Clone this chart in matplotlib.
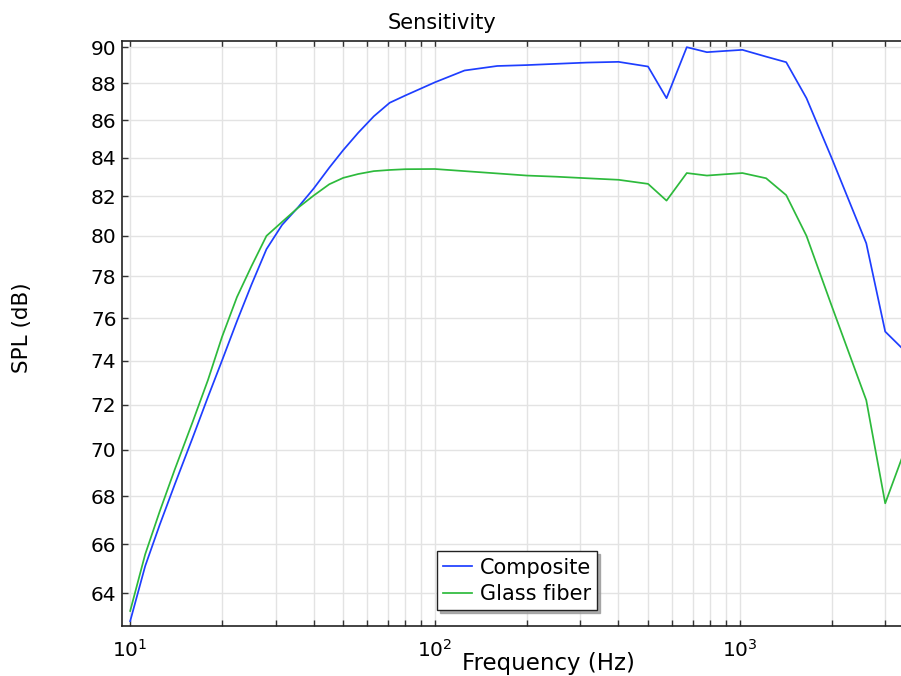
import numpy as np
import matplotlib
matplotlib.use("Agg")
import matplotlib.pyplot as plt
from matplotlib.ticker import FixedLocator, FixedFormatter, LogLocator, NullLocator, NullFormatter

# frequency points (Hz)
freq = [10, 11.2, 12.5, 14, 16, 18, 20, 22.4, 25, 28, 31.5, 35.5, 40, 45, 50, 56, 63, 71, 80, 100,
        125, 160, 200, 250, 315, 400, 500, 575, 670, 780, 880, 1020, 1220, 1420, 1655, 2000,
        2600, 3000, 3500]

composite = [62.9, 65.1, 66.8, 68.5, 70.5, 72.35, 74.0, 75.85, 77.6, 79.34, 80.55, 81.43, 82.4, 83.48,
             84.4, 85.32, 86.2, 86.93, 87.33, 88.05,
             88.7, 88.95, 89.0, 89.07, 89.14, 89.18, 88.92, 87.18, 90.0, 89.72, 89.78, 89.85, 89.47,
             89.16, 87.18, 84.0, 79.63, 75.36, 74.42]

glass_fiber = [63.3, 65.58, 67.36, 69.14, 71.2, 73.12, 75.1, 77.0, 78.5, 80.0, 80.7, 81.41, 82.04, 82.62,
               82.95, 83.15, 83.3, 83.36, 83.4, 83.41,
               83.3, 83.18, 83.07, 83.01, 82.93, 82.85, 82.64, 81.78, 83.2, 83.07, 83.13, 83.2, 82.93,
               82.06, 80.0, 76.6, 72.2, 67.7, 70.08]

yticks = [64, 66, 68, 70, 72, 74, 76, 78, 80, 82, 84, 86, 88, 90]

plt.rcParams["font.family"] = "DejaVu Sans"

fig = plt.figure(figsize=(9.01, 6.76), dpi=100)
ax = fig.add_axes([0.1354, 0.074, 0.8646, 0.8654])

ax.plot(freq, composite, color="#1e3eff", lw=1.25, label="Composite")
ax.plot(freq, glass_fiber, color="#2dba3c", lw=1.25, label="Glass fiber")

ax.set_xscale("log")
ax.set_yscale("log")
ax.set_xlim(9.4, 3380)
ax.set_ylim(62.71, 90.35)

ax.xaxis.set_major_locator(LogLocator(base=10))
ax.xaxis.set_minor_locator(LogLocator(base=10, subs=np.arange(2, 10)))
ax.xaxis.set_minor_formatter(NullFormatter())
ax.yaxis.set_major_locator(FixedLocator(yticks))
ax.yaxis.set_major_formatter(FixedFormatter([str(v) for v in yticks]))
ax.yaxis.set_minor_locator(NullLocator())

ax.grid(True, which="both", color="#e3e3e3", lw=1.0)
ax.set_axisbelow(True)
ax.spines["right"].set_visible(False)
for s in ["left", "bottom", "top"]:
    ax.spines[s].set_color("#222222")
    ax.spines[s].set_linewidth(1.2)

ax.tick_params(which="both", direction="in", top=True, length=4, width=1, color="#333333")
ax.tick_params(axis="x", labelsize=14.5, pad=9)
ax.tick_params(axis="y", labelsize=14.5, pad=4)

leg = ax.legend(loc="lower center", bbox_to_anchor=(0.507, 0.02), fontsize=15,
                frameon=True, fancybox=False, shadow={"color": "#999999", "alpha": 0.8},
                handlelength=1.4, handletextpad=0.35, borderpad=0.3, labelspacing=0.3,
                borderaxespad=0.2)
leg.get_frame().set_edgecolor("#222222")
leg.get_frame().set_linewidth(1.0)

fig.text(442 / 901, 1 - 23 / 676, "Sensitivity", ha="center", va="center", fontsize=15)
# x label sits just right of the 10^2 tick label, near the bottom edge
fig.text(548 / 901, 1 / 676, "Frequency (Hz)", ha="center", va="bottom", fontsize=16.5)
fig.text(22 / 901, 1 - 328 / 676, "SPL (dB)", ha="center", va="center", rotation=90, fontsize=15.5)

fig.savefig("out.png", dpi=100)
